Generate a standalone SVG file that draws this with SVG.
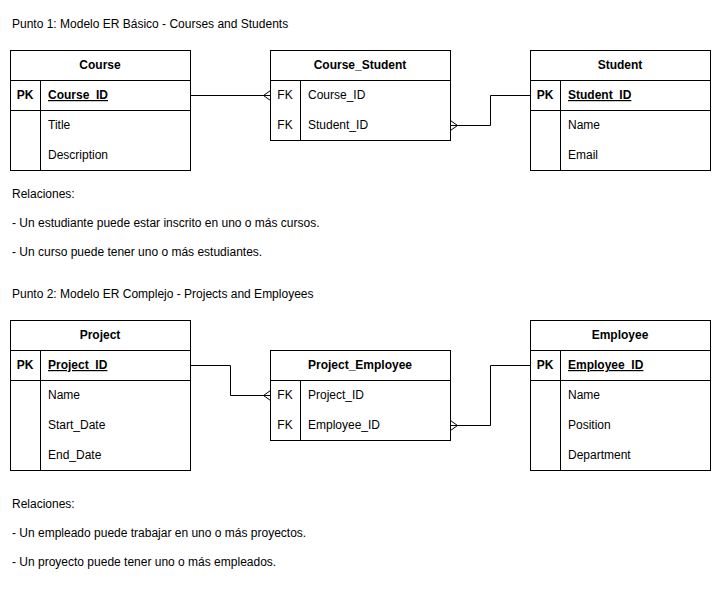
<svg xmlns="http://www.w3.org/2000/svg" width="721" height="590" viewBox="0 0 721 590">
<style>
text{font-family:"Liberation Sans",Arial,Helvetica,sans-serif;font-size:12px;fill:#000}
.h{font-weight:bold;text-anchor:middle}
.pk{font-weight:bold;text-decoration:underline}
.k{text-anchor:middle}
.b{fill:#fff;stroke:#000;stroke-width:1}
.l{stroke:#000;stroke-width:1;fill:none}
</style>
<rect width="721" height="590" fill="#fff"/>
<g id="labels">
<text x="12" y="28">Punto 1: Modelo ER Básico - Courses and Students</text>
<text x="12" y="198">Relaciones:</text>
<text x="12" y="227">- Un estudiante puede estar inscrito en uno o más cursos.</text>
<text x="12" y="256">- Un curso puede tener uno o más estudiantes.</text>
<text x="12" y="298">Punto 2: Modelo ER Complejo - Projects and Employees</text>
<text x="12" y="508">Relaciones:</text>
<text x="12" y="537">- Un empleado puede trabajar en uno o más proyectos.</text>
<text x="12" y="566">- Un proyecto puede tener uno o más empleados.</text>
</g>
<g id="connectors" class="l">
<path class="l" d="M190.5 95.5H270.5M263.5 95.5L270.5 90.5M263.5 95.5L270.5 100.5"/>
<path class="l" d="M530.5 95.5H490.5V125.5H450.5M457.5 125.5L450.5 120.5M457.5 125.5L450.5 130.5"/>
<path class="l" d="M190.5 365.5H230.5V395.5H270.5M263.5 395.5L270.5 390.5M263.5 395.5L270.5 400.5"/>
<path class="l" d="M530.5 365.5H490.5V425.5H450.5M457.5 425.5L450.5 420.5M457.5 425.5L450.5 430.5"/>
</g>
<g id="course">
<rect class="b" x="10.5" y="50.5" width="180" height="120"/>
<path class="l" d="M10.5 80.5H190.5M10.5 110.5H190.5M40.5 80.5V170.5"/>
<text class="h" x="100" y="69">Course</text>
<text class="k" x="25" y="99" font-weight="bold">PK</text>
<text class="pk" x="48" y="99">Course_ID</text>
<text x="48" y="129">Title</text>
<text x="48" y="159">Description</text>
</g>
<g id="course_student">
<rect class="b" x="270.5" y="50.5" width="180" height="90"/>
<path class="l" d="M270.5 80.5H450.5M300.5 80.5V140.5"/>
<text class="h" x="360" y="69">Course_Student</text>
<text class="k" x="285" y="99">FK</text>
<text x="308" y="99">Course_ID</text>
<text class="k" x="285" y="129">FK</text>
<text x="308" y="129">Student_ID</text>
</g>
<g id="student">
<rect class="b" x="530.5" y="50.5" width="180" height="120"/>
<path class="l" d="M530.5 80.5H710.5M530.5 110.5H710.5M560.5 80.5V170.5"/>
<text class="h" x="620" y="69">Student</text>
<text class="k" x="545" y="99" font-weight="bold">PK</text>
<text class="pk" x="568" y="99">Student_ID</text>
<text x="568" y="129">Name</text>
<text x="568" y="159">Email</text>
</g>
<g id="project">
<rect class="b" x="10.5" y="320.5" width="180" height="150"/>
<path class="l" d="M10.5 350.5H190.5M10.5 380.5H190.5M40.5 350.5V470.5"/>
<text class="h" x="100" y="339">Project</text>
<text class="k" x="25" y="369" font-weight="bold">PK</text>
<text class="pk" x="48" y="369">Project_ID</text>
<text x="48" y="399">Name</text>
<text x="48" y="429">Start_Date</text>
<text x="48" y="459">End_Date</text>
</g>
<g id="project_employee">
<rect class="b" x="270.5" y="350.5" width="180" height="90"/>
<path class="l" d="M270.5 380.5H450.5M300.5 380.5V440.5"/>
<text class="h" x="360" y="369">Project_Employee</text>
<text class="k" x="285" y="399">FK</text>
<text x="308" y="399">Project_ID</text>
<text class="k" x="285" y="429">FK</text>
<text x="308" y="429">Employee_ID</text>
</g>
<g id="employee">
<rect class="b" x="530.5" y="320.5" width="180" height="150"/>
<path class="l" d="M530.5 350.5H710.5M530.5 380.5H710.5M560.5 350.5V470.5"/>
<text class="h" x="620" y="339">Employee</text>
<text class="k" x="545" y="369" font-weight="bold">PK</text>
<text class="pk" x="568" y="369">Employee_ID</text>
<text x="568" y="399">Name</text>
<text x="568" y="429">Position</text>
<text x="568" y="459">Department</text>
</g>
</svg>
